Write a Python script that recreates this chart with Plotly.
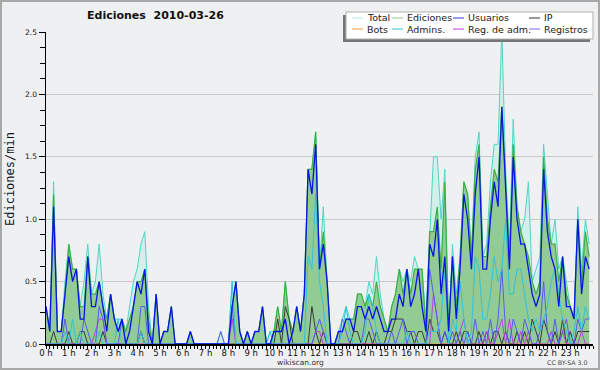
import plotly.graph_objects as go

# ---------------- data (10-minute bins, edits per minute) ----------------
HOUR_LABELS = [f"{h} h" for h in range(24)]
Y_TICKS = [0.0, 0.5, 1.0, 1.5, 2.0, 2.5]

total = [
    0.3, 0.1, 1.3, 0.1, 0.1, 0.5, 0.8, 0.6, 0.6, 0.3, 0.5, 0.8,
    0.4, 0.5, 0.8, 0.4, 0.2, 0.4, 0.2, 0.2, 0.2, 0.1, 0.3, 0.5,
    0.6, 0.8, 0.9, 0.3, 0.0, 0.4, 0.0, 0.1, 0.1, 0.3, 0.0, 0.0,
    0.0, 0.0, 0.1, 0.0, 0.0, 0.0, 0.0, 0.0, 0.0, 0.0, 0.1, 0.0,
    0.0, 0.5, 0.5, 0.1, 0.0, 0.1, 0.0, 0.1, 0.1, 0.3, 0.0, 0.1,
    0.1, 0.3, 0.1, 0.5, 0.2, 0.1, 0.3, 0.1, 0.4, 1.4, 1.4, 1.7,
    0.6, 1.1, 0.5, 0.0, 0.0, 0.1, 0.2, 0.3, 0.2, 0.2, 0.4, 0.4,
    0.3, 0.5, 0.4, 0.7, 0.4, 0.2, 0.1, 0.3, 0.4, 0.6, 0.5, 0.6,
    0.5, 0.7, 0.6, 0.6, 0.2, 0.9, 1.5, 1.5, 1.0, 1.4, 0.1, 0.8,
    0.4, 0.7, 1.3, 1.2, 0.7, 1.5, 1.7, 0.7, 0.8, 1.3, 1.6, 1.6,
    2.5, 1.4, 0.8, 1.8, 1.1, 0.9, 1.0, 1.3, 0.5, 0.6, 0.7, 1.6,
    1.2, 0.8, 1.0, 0.6, 0.7, 0.5, 0.3, 0.2, 1.1, 0.6, 1.0, 0.8,
]
ediciones = [
    0.3, 0.1, 1.2, 0.1, 0.1, 0.4, 0.8, 0.6, 0.6, 0.3, 0.3, 0.7,
    0.4, 0.4, 0.5, 0.3, 0.2, 0.4, 0.2, 0.1, 0.2, 0.1, 0.2, 0.3,
    0.5, 0.5, 0.6, 0.2, 0.0, 0.4, 0.0, 0.1, 0.1, 0.3, 0.0, 0.0,
    0.0, 0.0, 0.1, 0.0, 0.0, 0.0, 0.0, 0.0, 0.0, 0.0, 0.0, 0.0,
    0.0, 0.3, 0.5, 0.1, 0.0, 0.1, 0.0, 0.1, 0.1, 0.3, 0.0, 0.0,
    0.1, 0.3, 0.1, 0.5, 0.2, 0.1, 0.3, 0.1, 0.4, 1.4, 1.4, 1.7,
    0.6, 0.9, 0.5, 0.0, 0.0, 0.1, 0.1, 0.2, 0.2, 0.2, 0.4, 0.4,
    0.3, 0.4, 0.3, 0.5, 0.3, 0.2, 0.1, 0.3, 0.4, 0.6, 0.4, 0.6,
    0.4, 0.6, 0.6, 0.6, 0.1, 0.9, 0.9, 1.1, 0.6, 1.3, 0.1, 0.7,
    0.3, 0.7, 1.3, 1.2, 0.7, 1.4, 1.6, 0.7, 0.7, 1.1, 1.4, 1.3,
    1.9, 1.3, 0.7, 1.6, 1.1, 0.9, 0.8, 0.7, 0.5, 0.4, 0.5, 1.5,
    1.0, 0.8, 0.8, 0.5, 0.7, 0.4, 0.3, 0.2, 1.0, 0.5, 0.9, 0.7,
]
usuarios = [
    0.3, 0.1, 1.1, 0.1, 0.1, 0.4, 0.7, 0.5, 0.6, 0.2, 0.2, 0.7,
    0.3, 0.3, 0.5, 0.3, 0.1, 0.4, 0.2, 0.1, 0.2, 0.0, 0.1, 0.3,
    0.5, 0.4, 0.6, 0.1, 0.0, 0.4, 0.0, 0.1, 0.1, 0.3, 0.0, 0.0,
    0.0, 0.0, 0.1, 0.0, 0.0, 0.0, 0.0, 0.0, 0.0, 0.0, 0.0, 0.0,
    0.0, 0.3, 0.5, 0.1, 0.0, 0.1, 0.0, 0.1, 0.1, 0.3, 0.0, 0.0,
    0.1, 0.1, 0.1, 0.2, 0.0, 0.1, 0.3, 0.1, 0.4, 1.4, 1.2, 1.6,
    0.6, 0.8, 0.5, 0.0, 0.0, 0.1, 0.1, 0.2, 0.2, 0.1, 0.3, 0.3,
    0.2, 0.3, 0.2, 0.3, 0.2, 0.1, 0.1, 0.2, 0.2, 0.4, 0.3, 0.6,
    0.3, 0.4, 0.6, 0.3, 0.1, 0.8, 0.7, 1.0, 0.4, 0.7, 0.1, 0.7,
    0.2, 0.6, 1.2, 1.0, 0.6, 1.2, 1.5, 0.6, 0.6, 1.0, 1.3, 1.1,
    1.9, 1.2, 0.6, 1.5, 1.0, 0.8, 0.8, 0.6, 0.4, 0.3, 0.4, 1.4,
    0.9, 0.7, 0.6, 0.3, 0.7, 0.3, 0.3, 0.2, 1.0, 0.4, 0.7, 0.6,
]
ip = [
    0.0, 0.0, 0.1, 0.0, 0.0, 0.0, 0.1, 0.0, 0.0, 0.1, 0.1, 0.0,
    0.0, 0.0, 0.0, 0.1, 0.0, 0.0, 0.0, 0.0, 0.0, 0.0, 0.0, 0.0,
    0.0, 0.1, 0.0, 0.0, 0.0, 0.0, 0.0, 0.0, 0.0, 0.0, 0.0, 0.0,
    0.0, 0.0, 0.0, 0.0, 0.0, 0.0, 0.0, 0.0, 0.0, 0.0, 0.0, 0.0,
    0.0, 0.0, 0.0, 0.0, 0.0, 0.0, 0.0, 0.0, 0.0, 0.0, 0.0, 0.0,
    0.0, 0.2, 0.0, 0.3, 0.2, 0.0, 0.0, 0.0, 0.0, 0.0, 0.3, 0.1,
    0.0, 0.1, 0.0, 0.0, 0.0, 0.0, 0.0, 0.0, 0.0, 0.1, 0.1, 0.0,
    0.0, 0.1, 0.0, 0.1, 0.0, 0.0, 0.1, 0.1, 0.2, 0.2, 0.2, 0.1,
    0.1, 0.0, 0.1, 0.1, 0.0, 0.2, 0.1, 0.1, 0.0, 0.1, 0.0, 0.0,
    0.1, 0.0, 0.1, 0.1, 0.0, 0.0, 0.1, 0.0, 0.1, 0.0, 0.1, 0.1,
    0.0, 0.1, 0.0, 0.0, 0.1, 0.0, 0.1, 0.0, 0.2, 0.1, 0.0, 0.2,
    0.1, 0.0, 0.1, 0.0, 0.2, 0.0, 0.1, 0.0, 0.1, 0.1, 0.1, 0.1,
]
bots = [0.0] * 144
admins = [
    0.0, 0.0, 0.0, 0.0, 0.0, 0.1, 0.0, 0.2, 0.0, 0.1, 0.0, 0.0,
    0.0, 0.0, 0.1, 0.0, 0.0, 0.0, 0.0, 0.2, 0.0, 0.0, 0.0, 0.0,
    0.0, 0.1, 0.0, 0.0, 0.0, 0.0, 0.0, 0.0, 0.0, 0.0, 0.0, 0.0,
    0.0, 0.0, 0.0, 0.0, 0.0, 0.0, 0.0, 0.0, 0.0, 0.0, 0.0, 0.0,
    0.0, 0.5, 0.0, 0.0, 0.0, 0.0, 0.0, 0.0, 0.0, 0.0, 0.0, 0.1,
    0.0, 0.0, 0.0, 0.0, 0.0, 0.0, 0.0, 0.0, 0.0, 0.7, 0.6, 1.2,
    0.5, 0.3, 0.0, 0.0, 0.0, 0.0, 0.1, 0.3, 0.1, 0.0, 0.0, 0.0,
    0.1, 0.4, 0.3, 0.1, 0.0, 0.0, 0.0, 0.0, 0.0, 0.0, 0.0, 0.1,
    0.0, 0.0, 0.0, 0.0, 0.0, 0.1, 0.1, 0.1, 0.2, 0.6, 0.0, 0.2,
    0.1, 0.5, 0.2, 0.0, 0.1, 0.7, 0.6, 0.2, 0.2, 0.4, 0.7, 0.5,
    0.6, 1.0, 0.4, 0.4, 0.6, 0.6, 0.4, 0.2, 0.1, 0.2, 0.1, 0.2,
    0.3, 0.5, 0.6, 0.4, 0.2, 0.1, 0.0, 0.1, 0.3, 0.1, 0.3, 0.2,
]
reg_adm = [
    0.0, 0.0, 0.0, 0.0, 0.0, 0.0, 0.0, 0.0, 0.0, 0.0, 0.0, 0.0,
    0.0, 0.1, 0.2, 0.2, 0.0, 0.0, 0.0, 0.0, 0.0, 0.0, 0.0, 0.0,
    0.0, 0.0, 0.0, 0.0, 0.0, 0.0, 0.0, 0.0, 0.0, 0.0, 0.0, 0.0,
    0.0, 0.0, 0.0, 0.0, 0.0, 0.0, 0.0, 0.0, 0.0, 0.0, 0.0, 0.0,
    0.0, 0.2, 0.0, 0.0, 0.0, 0.0, 0.0, 0.0, 0.0, 0.0, 0.0, 0.0,
    0.0, 0.0, 0.0, 0.0, 0.0, 0.0, 0.0, 0.0, 0.0, 0.0, 0.0, 0.1,
    0.1, 0.0, 0.0, 0.0, 0.0, 0.0, 0.0, 0.0, 0.0, 0.0, 0.0, 0.0,
    0.0, 0.0, 0.0, 0.0, 0.0, 0.0, 0.0, 0.0, 0.0, 0.0, 0.0, 0.0,
    0.0, 0.0, 0.0, 0.0, 0.0, 0.0, 0.4, 0.2, 0.0, 0.0, 0.0, 0.0,
    0.0, 0.1, 0.2, 0.0, 0.0, 0.0, 0.0, 0.0, 0.1, 0.0, 0.0, 0.1,
    0.2, 0.0, 0.2, 0.0, 0.0, 0.1, 0.0, 0.1, 0.0, 0.0, 0.0, 0.0,
    0.0, 0.1, 0.0, 0.0, 0.1, 0.0, 0.0, 0.0, 0.0, 0.1, 0.0, 0.0,
]
registros = [
    0.0, 0.0, 0.0, 0.0, 0.0, 0.2, 0.0, 0.0, 0.0, 0.0, 0.2, 0.1,
    0.0, 0.0, 0.3, 0.2, 0.0, 0.0, 0.0, 0.0, 0.2, 0.0, 0.0, 0.0,
    0.0, 0.3, 0.3, 0.0, 0.0, 0.0, 0.0, 0.0, 0.0, 0.0, 0.0, 0.0,
    0.0, 0.0, 0.0, 0.0, 0.0, 0.0, 0.0, 0.0, 0.0, 0.0, 0.1, 0.0,
    0.0, 0.3, 0.0, 0.0, 0.0, 0.0, 0.0, 0.0, 0.0, 0.0, 0.0, 0.0,
    0.0, 0.0, 0.0, 0.0, 0.0, 0.0, 0.0, 0.0, 0.0, 0.0, 0.0, 0.1,
    0.2, 0.1, 0.0, 0.0, 0.0, 0.0, 0.2, 0.1, 0.0, 0.0, 0.0, 0.0,
    0.2, 0.2, 0.1, 0.0, 0.0, 0.0, 0.0, 0.1, 0.0, 0.1, 0.2, 0.0,
    0.1, 0.1, 0.0, 0.0, 0.0, 0.6, 0.4, 0.2, 0.0, 0.1, 0.0, 0.1,
    0.0, 0.1, 0.0, 0.1, 0.0, 0.2, 0.0, 0.1, 0.0, 0.2, 0.0, 0.2,
    0.6, 0.1, 0.0, 0.2, 0.1, 0.0, 0.2, 0.1, 0.0, 0.0, 0.1, 0.5,
    0.1, 0.0, 0.2, 0.0, 0.1, 0.2, 0.0, 0.0, 0.2, 0.1, 0.2, 0.2,
]

hours = [i / 6 for i in range(len(total))]

# ---------------- styles ----------------
BG = "#eff0f1"
FONT = "DejaVu Sans"
C_TOTAL = "#4fd6c6"
C_TOTAL_FILL = "rgba(204,240,232,0.9)"
C_EDIT = "#3cb043"
C_EDIT_FILL = "rgba(142,200,142,0.95)"
C_USERS = "#0a14e6"
C_IP = "#3a3a3a"
C_BOTS = "#f0a040"
C_ADMINS = "#30c4dc"
C_REGADM = "#c040e0"
C_REGIS = "#5a5af0"

L, R, T, B = 46, 7, 32, 26
W, H = 600, 370
PW, PH = W - L - R, H - T - B


def px(xp):
    return (xp - L) / PW


def py(yp):
    return (H - B - yp) / PH


fig = go.Figure()

fig.add_trace(go.Scatter(x=hours, y=total, mode="lines", fill="tozeroy",
                         fillcolor=C_TOTAL_FILL, line=dict(color=C_TOTAL, width=1),
                         name="Total"))
fig.add_trace(go.Scatter(x=hours, y=ediciones, mode="lines", fill="tozeroy",
                         fillcolor=C_EDIT_FILL, line=dict(color=C_EDIT, width=1.2),
                         name="Ediciones"))
for ys, col, nm, w in [
    (bots, C_BOTS, "Bots", 1),
    (ip, C_IP, "IP", 1),
    (reg_adm, C_REGADM, "Reg. de adm.", 1),
    (registros, C_REGIS, "Registros", 1),
    (admins, C_ADMINS, "Admins.", 1),
    (usuarios, C_USERS, "Usuarios", 1.3),
]:
    fig.add_trace(go.Scatter(x=hours, y=ys, mode="lines",
                             line=dict(color=col, width=w), name=nm))

shapes = []
annotations = []

# outer frame
shapes.append(dict(type="rect", xref="paper", yref="paper",
                   x0=px(1), x1=px(599), y0=py(1), y1=py(369),
                   line=dict(color="#a8a8a8", width=2), fillcolor="rgba(0,0,0,0)",
                   layer="above"))

# legend box with shadow
shapes.append(dict(type="rect", xref="paper", yref="paper",
                   x0=px(343), x1=px(590), y0=py(15), y1=py(42),
                   line=dict(width=0), fillcolor="#777777", layer="above"))
shapes.append(dict(type="rect", xref="paper", yref="paper",
                   x0=px(346), x1=px(593), y0=py(12), y1=py(39),
                   line=dict(color="#b0b0b0", width=1), fillcolor="#ffffff",
                   layer="above"))

legend_items = [
    ("Total", "#b4e8e6", 352, 18), ("Ediciones", "#88d088", 392, 18),
    ("Usuarios", "#3a3ae0", 453, 18), ("IP", "#333333", 529, 18),
    ("Bots", C_BOTS, 352, 29), ("Admins.", C_ADMINS, 392, 29),
    ("Reg. de adm.", C_REGADM, 453, 29), ("Registros", "#6a6af0", 529, 29),
]
for name, col, x0, y0 in legend_items:
    shapes.append(dict(type="line", xref="paper", yref="paper",
                       x0=px(x0), x1=px(x0 + 11), y0=py(y0), y1=py(y0),
                       line=dict(color=col, width=1), layer="above"))
    annotations.append(dict(text=name, xref="paper", yref="paper",
                            x=px(x0 + 13), y=py(y0), xanchor="left", yanchor="middle",
                            showarrow=False, font=dict(family=FONT, size=9.5, color="#222")))

# title
annotations.append(dict(text="<b>Ediciones  2010-03-26</b>", xref="paper", yref="paper",
                        x=px(85), y=py(16), xanchor="left", yanchor="middle",
                        showarrow=False, font=dict(family=FONT, size=11, color="#111")))
# y title
annotations.append(dict(text="Ediciones/min", xref="paper", yref="paper",
                        x=px(10), y=py(179), xanchor="center", yanchor="middle",
                        textangle=-90, showarrow=False,
                        font=dict(family="DejaVu Sans Mono", size=12, color="#111")))
# footer
annotations.append(dict(text="wikiscan.org", xref="paper", yref="paper",
                        x=px(300), y=py(362), xanchor="center", yanchor="middle",
                        showarrow=False, font=dict(family=FONT, size=7.5, color="#333")))
annotations.append(dict(text="CC BY-SA 3.0", xref="paper", yref="paper",
                        x=px(590), y=py(362.5), xanchor="right", yanchor="middle",
                        showarrow=False, font=dict(family=FONT, size=6.3, color="#444")))

fig.update_layout(
    width=W, height=H,
    margin=dict(l=L, r=R, t=T, b=B, autoexpand=False),
    paper_bgcolor=BG, plot_bgcolor=BG,
    showlegend=False,
    shapes=shapes, annotations=annotations,
    xaxis=dict(range=[0, 24], tickvals=list(range(24)), ticktext=HOUR_LABELS,
               showgrid=False, zeroline=False, showline=True, linecolor="black",
               linewidth=1.5, ticks="outside", ticklen=3, tickcolor="black",
               ticklabelstandoff=-3,
               tickfont=dict(family=FONT, size=8.5, color="#111"),
               minor=dict(dtick=1 / 6, ticks="outside", ticklen=3, tickcolor="black",
                          showgrid=False),
               fixedrange=True),
    yaxis=dict(range=[0, 2.5], tickvals=Y_TICKS, ticktext=[f"{v:.1f}" for v in Y_TICKS],
               showgrid=True, gridcolor="#c8c8c8", gridwidth=1, zeroline=False,
               showline=True, linecolor="black", linewidth=1.5,
               ticks="outside", ticklen=6, tickcolor="black",
               tickfont=dict(family=FONT, size=7.5, color="#111"),
               minor=dict(dtick=0.125, ticks="outside", ticklen=5, tickcolor="black",
                          showgrid=False),
               fixedrange=True),
)

fig.write_html("out.html", config={"displayModeBar": False, "staticPlot": True},
               post_script="document.body.style.margin='0';document.body.style.padding='0';"
                           "document.body.style.overflow='hidden';")
